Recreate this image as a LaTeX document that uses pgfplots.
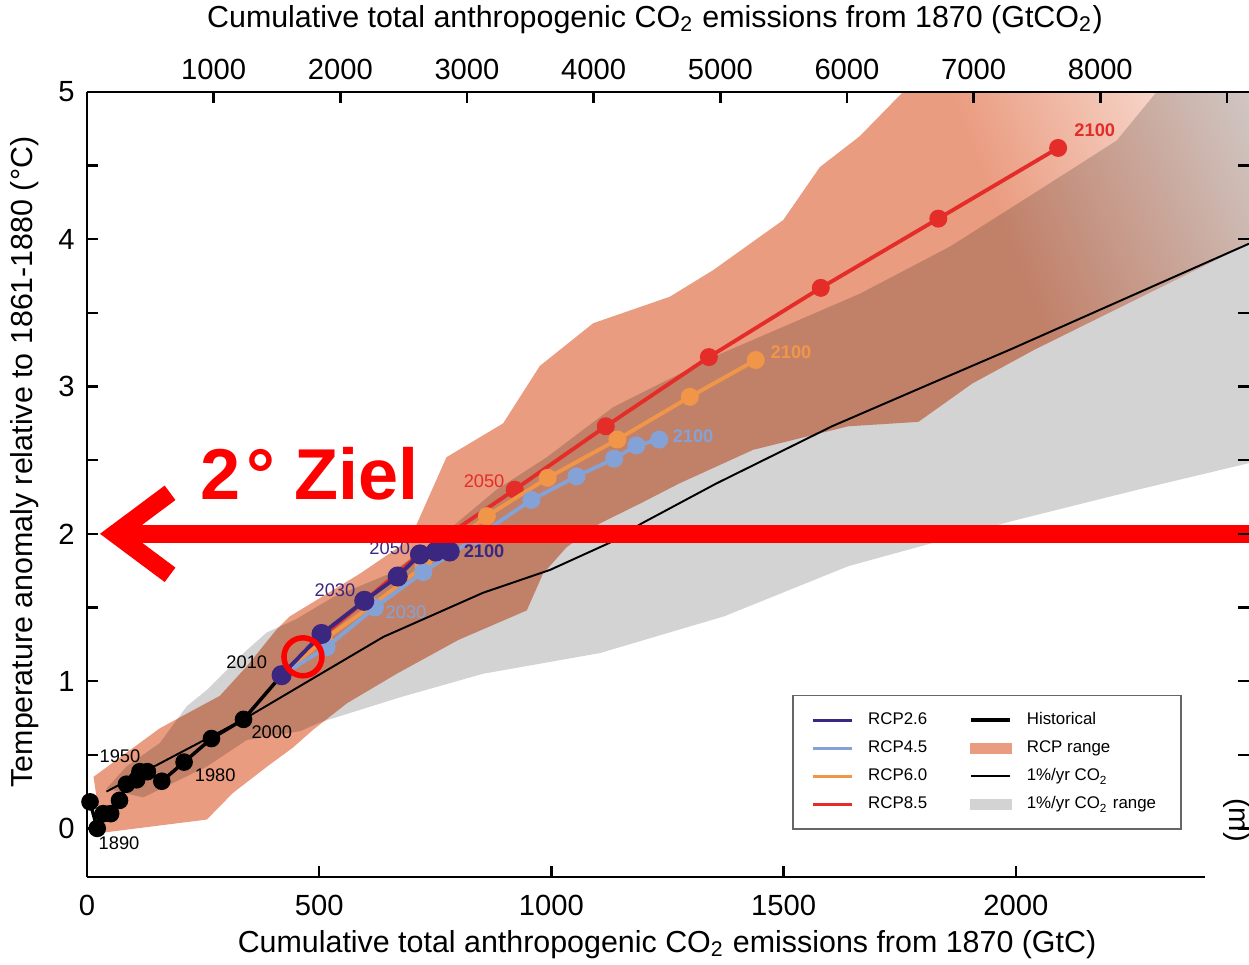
\documentclass[border=0pt]{standalone}
\usepackage{fontspec}
\setmainfont{Liberation Sans}
\usepackage{pgfplots}
\pgfplotsset{compat=1.18}
\usetikzlibrary{arrows.meta}

\definecolor{rcpa}{RGB}{59,38,128}
\definecolor{rcpb}{RGB}{133,162,214}
\definecolor{rcpc}{RGB}{241,150,72}
\definecolor{rcpd}{RGB}{228,45,40}
\definecolor{rcprange}{RGB}{234,156,128}
\definecolor{pctrange}{RGB}{211,211,211}
\definecolor{zielred}{RGB}{255,0,0}

% salmon plume fades out towards the upper right
\pgfdeclarehorizontalshading{rcpfade}{100bp}{color(0bp)=(rcprange); color(67bp)=(rcprange); color(74bp)=(rcprange!55!white); color(82bp)=(white); color(100bp)=(white)}

\newcommand{\tickfont}{\fontsize{8.3}{9}\selectfont}
\newcommand{\labfont}{\fontsize{8.65}{10}\selectfont}
\newcommand{\yrfont}{\fontsize{5.2}{6}\selectfont}

\begin{document}
\begin{tikzpicture}
\useasboundingbox (-0.87,-0.88) rectangle (11.62,8.77);

% main axis: GtC at the bottom
\begin{axis}[
  at={(0,0)}, anchor=south west,
  scale only axis, width=11.62cm, height=7.85cm,
  xmin=0, xmax=2502, ymin=-0.33, ymax=5,
  axis x line*=bottom, axis y line*=left,
  x axis line style={draw=none},
  axis line style={line width=0.7pt},
  every tick/.style={black, line width=0.7pt},
  tick align=inside,
  major tick length=0.11cm, minor tick length=0.11cm,
  xtick={0,500,1000,1500,2000},
  ytick={0,1,2,3,4,5}, minor ytick={0.5,1.5,2.5,3.5,4.5},
  /pgf/number format/assume math mode=true,
  /pgf/number format/1000 sep={},
  ticklabel style={font=\tickfont},
  xticklabel style={yshift=-0.06cm},
  clip mode=individual,
  legend columns=2, legend cell align=left,
  legend style={at={(0.607,0.232)}, anchor=north west,
    draw=black!60, line width=0.4pt, fill=white,
    font=\fontsize{4.8}{5.5}\selectfont,
    inner xsep=0.18cm, inner ysep=0.14cm,
    nodes={inner ysep=0.6pt, text height=3.6pt, text depth=1.2pt},
    /tikz/row sep=2pt,
    /tikz/every even column/.append style={column sep=0.35cm}},
  legend image code/.code={\draw[#1] (0cm,0cm) -- (0.39cm,0cm); \path (0.47cm,0cm);},
]
% legend entries (row-wise: left column, right column)
\addlegendimage{rcpa, line width=0.9pt}
\addlegendentry{RCP2.6}
\addlegendimage{black, line width=1pt}
\addlegendentry{Historical}
\addlegendimage{rcpb, line width=0.9pt}
\addlegendentry{RCP4.5}
\addlegendimage{legend image code/.code={\fill[rcprange] (0cm,-0.05cm) rectangle (0.4cm,0.05cm); \path (0.47cm,0cm);}}
\addlegendentry{RCP range}
\addlegendimage{rcpc, line width=0.9pt}
\addlegendentry{RCP6.0}
\addlegendimage{black, line width=0.55pt}
\addlegendentry{1\%/yr CO\textsubscript{2}}
\addlegendimage{rcpd, line width=0.9pt}
\addlegendentry{RCP8.5}
\addlegendimage{legend image code/.code={\fill[pctrange] (0cm,-0.05cm) rectangle (0.4cm,0.05cm); \path (0.47cm,0cm);}}
\addlegendentry{1\%/yr CO\textsubscript{2} range}

% 1%/yr CO2 range (grey)
\addplot[forget plot, fill=pctrange, draw=none] coordinates {
 (42,0.27) (85,0.42) (157,0.58) (215,0.83) (258,0.94) (344,1.21) (387,1.33)
 (450,1.42) (530,1.57) (652,1.73) (753,1.96) (882,2.30) (990,2.52) (1133,2.86)
 (1348,3.20) (1664,3.63) (1858,3.95) (2073,4.38) (2217,4.67) (2303,5.0) (2700,5.8)
 (2700,2.6) (2502,2.48) (2263,2.30) (1996,2.09) (1639,1.78) (1372,1.44) (1104,1.19)
 (853,1.05) (674,0.89) (502,0.72) (459,0.66) (344,0.60) (258,0.42) (121,0.21) (42,0.27)
};
% RCP range (salmon, multiplied over the grey)
\addplot[forget plot, draw=none, shade, shading=rcpfade, shading angle=21.8, blend mode=multiply] coordinates {
 (14,0.35) (157,0.68) (286,0.90) (344,1.10) (408,1.35) (437,1.44) (588,1.73)
 (695,1.96) (774,2.52) (896,2.75) (975,3.14) (1090,3.43) (1255,3.61) (1348,3.79)
 (1499,4.13) (1578,4.49) (1664,4.70) (1757,5.0) (1850,5.3) (2600,5.3)
 (2600,4.05) (2502,3.97) (2040,3.25) (1906,3.02) (1790,2.76) (1639,2.73) (1434,2.57)
 (1274,2.34) (1194,2.21) (1104,2.07) (1033,1.91) (982,1.73) (947,1.48) (800,1.28)
 (667,1.05) (560,0.85) (487,0.67) (444,0.55) (388,0.42) (314,0.24) (258,0.06)
 (32,-0.03) (14,0.35)
};

% 1%/yr CO2
\addplot[forget plot, black, line width=0.55pt] coordinates {
 (42,0.25) (337,0.74) (638,1.30) (853,1.60) (997,1.755) (1126,1.94) (1194,2.07)
 (1354,2.34) (1604,2.73) (1817,3.02) (1987,3.25) (2502,3.97)
};

% historical
\addplot[forget plot, black, line width=1pt, mark=*, mark size=2pt] coordinates {
 (6.5,0.18) (22,0.0) (35,0.10) (51,0.10) (70,0.19) (85,0.30) (107,0.33) (114,0.385)
 (130,0.385) (161,0.32) (209,0.45) (268,0.61) (337,0.74) (419,1.04)
};

% RCP8.5
\addplot[forget plot, rcpd, line width=1.1pt, mark=*, mark size=2pt] coordinates {
 (419,1.04) (505,1.30) (600,1.55) (715,1.86) (921,2.30) (1117,2.73) (1339,3.20)
 (1580,3.67) (1833,4.14) (2091,4.62)
};
% RCP6.0
\addplot[forget plot, rcpc, line width=1.1pt, mark=*, mark size=2pt] coordinates {
 (419,1.04) (510,1.28) (612,1.51) (725,1.78) (861,2.12) (992,2.38) (1142,2.64)
 (1298,2.93) (1440,3.18)
};
% RCP4.5
\addplot[forget plot, rcpb, line width=1.1pt, mark=*, mark size=2pt] coordinates {
 (419,1.04) (516,1.23) (620,1.50) (724,1.74) (840,1.98) (957,2.23) (1054,2.39)
 (1135,2.51) (1183,2.60) (1232,2.64)
};
% RCP2.6
\addplot[forget plot, rcpa, line width=1.1pt, mark=*, mark size=2.3pt] coordinates {
 (419,1.04) (505,1.32) (597,1.545) (669,1.71) (717,1.86) (751,1.88) (769,1.91) (781,1.88)
};

% year labels
\node[font=\yrfont] at (axis cs:344,1.125) {2010};
\node[font=\yrfont] at (axis cs:398,0.65) {2000};
\node[font=\yrfont] at (axis cs:276,0.36) {1980};
\node[font=\yrfont] at (axis cs:71,0.49) {1950};
\node[font=\yrfont] at (axis cs:69,-0.10) {1890};
\node[font=\yrfont, text=rcpa] at (axis cs:534,1.62) {2030};
\node[font=\yrfont, text=rcpa] at (axis cs:652,1.90) {2050};
\node[font=\yrfont\bfseries, text=rcpa] at (axis cs:855,1.88) {2100};
\node[font=\yrfont, text=rcpb] at (axis cs:687,1.47) {2030};
\node[font=\yrfont\bfseries, text=rcpb] at (axis cs:1305,2.66) {2100};
\node[font=\yrfont\bfseries, text=rcpc] at (axis cs:1516,3.23) {2100};
\node[font=\yrfont, text=rcpd] at (axis cs:855,2.36) {2050};
\node[font=\yrfont\bfseries, text=rcpd] at (axis cs:2170,4.74) {2100};

% 2 degree target
\draw[zielred, line width=0.18cm, -{Straight Barb[length=0.55cm, width=0.82cm]}]
  (axis cs:2502,2) -- (axis cs:28,2);
\draw[zielred, line width=0.055cm] (axis cs:465,1.165) circle[radius=0.19cm];
\end{axis}
\draw[line width=0.7pt] (0,0) -- (11.18,0);

% top axis: GtCO2
\begin{axis}[
  at={(0,0)}, anchor=south west,
  scale only axis, width=11.62cm, height=7.85cm,
  xmin=0, xmax=9174, ymin=-0.33, ymax=5,
  axis x line*=top, axis y line*=right,
  y axis line style={draw=none},
  axis line style={line width=0.7pt},
  every tick/.style={black, line width=0.7pt},
  tick align=inside,
  major tick length=0.11cm,
  xtick={1000,2000,3000,4000,5000,6000,7000,8000,9000},
  xticklabels={1000,2000,3000,4000,5000,6000,7000,8000,{}},
  ytick={0,0.5,1,1.5,2,2.5,3,3.5,4,4.5,5}, yticklabels={},
  ticklabel style={font=\tickfont},
]
\end{axis}

\node[font=\labfont, rotate=90] at (-0.62,4.15) {Temperature anomaly relative to 1861-1880 (°C)};
\node[font=\labfont] at (5.80,-0.68) {Cumulative total anthropogenic CO\textsubscript{2} emissions from 1870 (GtC)};
\node[font=\labfont] at (5.68,8.57) {Cumulative total anthropogenic CO\textsubscript{2} emissions from 1870 (GtCO\textsubscript{2})};
\node[font=\tickfont, rotate=-90] at (11.50,0.57) {(m)};
\node[font=\fontsize{20.5}{22}\selectfont\bfseries, text=zielred, anchor=base west, inner sep=0pt] at (1.13,3.77) {2\kern1.5pt°\ Ziel};
\end{tikzpicture}
\end{document}
